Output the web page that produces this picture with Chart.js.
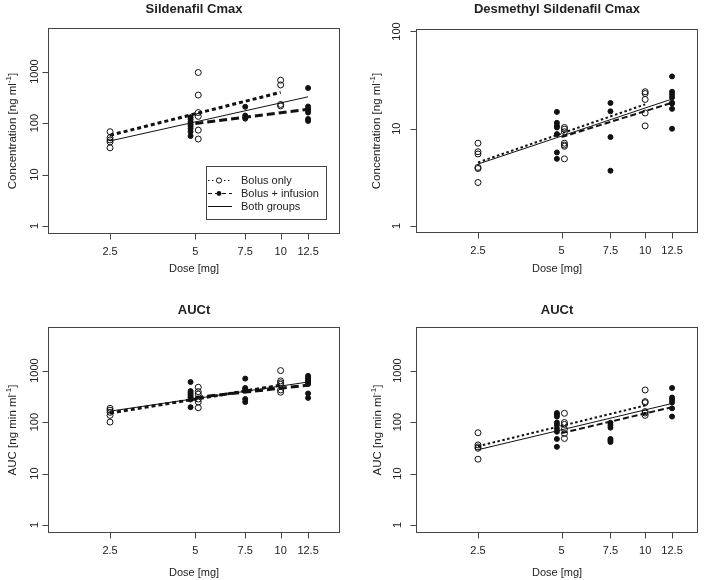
<!DOCTYPE html>
<html><head><meta charset="utf-8">
<script src="https://cdn.jsdelivr.net/npm/chart.js@4.4.1/dist/chart.umd.min.js"></script>
<style>
html,body{margin:0;padding:0;background:#fff;}
#wrap{position:relative;width:709px;height:580px;background:#fff;}
canvas{position:absolute;left:0;top:0;}
</style></head><body>
<div id="wrap">
<canvas id="c1" width="709" height="580"></canvas>
<canvas id="c2" width="709" height="580"></canvas>
<canvas id="c3" width="709" height="580"></canvas>
<canvas id="c4" width="709" height="580"></canvas>
</div>
<script>
// ---------------- data ----------------
const doseTicks = [2.5, 5, 7.5, 10, 12.5];
const yTicksWide = [1, 10, 100, 1000];
const yTicksNarrow = [1, 10, 100];
const legendLabels = ['Bolus only', 'Bolus + infusion', 'Both groups'];

// Panel 1: Sildenafil Cmax
const silBolusDose = [2.5,2.5,2.5,2.5,2.5, 5,5,5,5,5,5, 10,10,10,10];
const silBolusVal  = [68,52,47,43,33, 960,350,160,135,73,49, 680,550,230,215];
const silInfDose   = [5,5,5,5,5,5,5,5, 7.5,7.5,7.5,7.5, 12.5,12.5,12.5,12.5,12.5,12.5,12.5];
const silInfVal    = [130,118,105,95,87,78,68,56, 207,140,130,122, 480,210,190,175,160,120,110];
const silBolusFit  = [58, 395];   // at 2.5 and 10
const silInfFit    = [98, 185];   // at 5 and 12.5
const silBothFit   = [45, 324];   // at 2.5 and 12.5

// Panel 2: Desmethyl Sildenafil Cmax
const desBolusDose = [2.5,2.5,2.5,2.5,2.5,2.5, 5,5,5,5,5,5,5, 10,10,10,10,10];
const desBolusVal  = [7.1,5.8,5.5,4.0,3.9,2.8, 10.3,9.9,9.3,7.1,6.8,6.6,4.9, 24,23,20,14.5,10.7];
const desInfDose   = [5,5,5,5,5,5,5, 7.5,7.5,7.5,7.5, 12.5,12.5,12.5,12.5,12.5,12.5,12.5,12.5];
const desInfVal    = [14.9,11.5,10.7,10.3,8.8,5.7,4.9, 18.4,15.1,8.2,3.7, 34.5,24,22.5,21,18.5,18.2,16,10];
const desBolusFit  = [4.5, 17.8];
const desInfFit    = [8.2, 18.5];
const desBothFit   = [4.33, 20.2];

// Panel 3: AUCt (sildenafil)
const aucSBolusDose = [2.5,2.5,2.5,2.5,2.5, 5,5,5,5,5,5, 10,10,10,10,10,10];
const aucSBolusVal  = [185,170,155,135,100, 475,390,350,280,245,190, 1000,630,580,540,420,380];
const aucSInfDose   = [5,5,5,5,5,5,5,5, 7.5,7.5,7.5,7.5,7.5, 12.5,12.5,12.5,12.5,12.5,12.5,12.5,12.5];
const aucSInfVal    = [600,400,370,345,320,300,275,195, 700,460,430,280,245, 790,730,680,630,580,550,360,295];
const aucSBolusFit  = [150, 520];
const aucSInfFit    = [300, 520];
const aucSBothFit   = [163, 600];

// Panel 4: AUCt (desmethyl)
const aucDBolusDose = [2.5,2.5,2.5,2.5,2.5, 5,5,5,5,5,5, 10,10,10,10,10,10];
const aucDBolusVal  = [62,36,33,31,19, 148,98,90,73,60,48, 420,250,238,160,150,135];
const aucDInfDose   = [5,5,5,5,5,5,5,5,5, 7.5,7.5,7.5,7.5,7.5,7.5, 12.5,12.5,12.5,12.5,12.5,12.5];
const aucDInfVal    = [150,140,128,98,88,75,65,47,33, 97,87,78,47,44,41, 460,300,270,240,185,128];
const aucDBolusFit  = [34, 210];
const aucDInfFit    = [61, 195];
const aucDBothFit   = [29, 230];

// ---------------- drawing ----------------
const FONT = '"Liberation Sans", Arial, Helvetica, sans-serif';
const TXT = '#222';
const BOX = '#444';
const bolusRange = [2.5, 10], infRange = [5, 12.5], bothRange = [2.5, 12.5];
const SHARED = 5, bolusShift = 1.024, infShift = 0.962; // side-by-side offset at shared dose

function pts(dose, val, shift) {
  return dose.map((d, i) => ({x: d === SHARED ? d * shift : d, y: val[i]}));
}
function fitPts(range, fit) {
  return [{x: range[0], y: fit[0]}, {x: range[1], y: fit[1]}];
}
function richWidth(ctx, parts, size) {
  let w = 0;
  parts.forEach(p => { ctx.font = (p.sup ? Math.round(size*0.72) : size) + 'px ' + FONT; w += ctx.measureText(p.t).width; });
  return w;
}
function drawRich(ctx, parts, size) {
  const w = richWidth(ctx, parts, size);
  let x = -w / 2;
  ctx.textAlign = 'left'; ctx.textBaseline = 'middle';
  parts.forEach(p => {
    ctx.font = (p.sup ? Math.round(size*0.72) : size) + 'px ' + FONT;
    ctx.fillText(p.t, x, p.sup ? -4 : 0);
    x += ctx.measureText(p.t).width;
  });
}

function makePanel(id, cfg) {
  const wide = cfg.wide;
  const lw = wide ? 3 : 2;
  const dotDash = wide ? [4, 3] : [2.5, 2.5];
  const dashDash = wide ? [8, 4] : [6, 3];
  const decor = {
    id: 'decor',
    afterDraw(chart) {
      const ctx = chart.ctx, a = chart.chartArea, xs = chart.scales.x, ys = chart.scales.y;
      ctx.save();
      ctx.strokeStyle = BOX; ctx.lineWidth = 1;
      const L = Math.round(a.left) + 0.5, R = Math.round(a.right) - 0.5, T = Math.round(a.top) + 0.5, B = Math.round(a.bottom) - 0.5;
      ctx.strokeRect(L, T, R - L, B - T);
      ctx.beginPath();
      doseTicks.forEach(v => { const px = Math.round(xs.getPixelForValue(v)) + 0.5; ctx.moveTo(px, B); ctx.lineTo(px, B + 6); });
      cfg.yTicks.forEach(v => { const py = Math.round(ys.getPixelForValue(v)) + 0.5; ctx.moveTo(L, py); ctx.lineTo(L - 6, py); });
      ctx.stroke();
      ctx.fillStyle = TXT;
      ctx.font = '11px ' + FONT; ctx.textAlign = 'center'; ctx.textBaseline = 'middle';
      doseTicks.forEach(v => ctx.fillText(String(v), xs.getPixelForValue(v), a.bottom + 18));
      cfg.yTicks.forEach(v => {
        ctx.save(); ctx.translate(a.left - cfg.yLabOff, ys.getPixelForValue(v)); ctx.rotate(-Math.PI/2);
        ctx.fillText(String(v), 0, 0); ctx.restore();
      });
      ctx.fillText('Dose [mg]', (a.left + a.right)/2, a.bottom + cfg.xTitleOff);
      ctx.save(); ctx.translate(a.left - cfg.yTitleOff, (a.top + a.bottom)/2); ctx.rotate(-Math.PI/2);
      drawRich(ctx, cfg.yTitle, 11.5); ctx.restore();
      ctx.font = 'bold 13px ' + FONT; ctx.textAlign = 'center'; ctx.textBaseline = 'middle';
      ctx.fillText(cfg.title, (a.left + a.right)/2, a.top - cfg.titleOff);
      if (cfg.legend) {
        const lx = 206, ly = 166, lwid = 120, lh = 53;
        ctx.strokeStyle = BOX; ctx.lineWidth = 1;
        ctx.strokeRect(lx + 0.5, ly + 0.5, lwid, lh);
        const rows = [180.5, 193.5, 206.5];
        const dashes = [[1.5, 2.5], [4, 3], []];
        rows.forEach((ry, i) => {
          ctx.strokeStyle = '#111'; ctx.lineWidth = 1; ctx.setLineDash(dashes[i]);
          ctx.beginPath(); ctx.moveTo(208, ry); ctx.lineTo(232, ry); ctx.stroke();
          ctx.setLineDash([]);
          if (i === 0) { ctx.fillStyle = '#fff'; ctx.beginPath(); ctx.arc(219, ry, 2.6, 0, Math.PI*2); ctx.fill(); ctx.stroke(); }
          if (i === 1) { ctx.fillStyle = '#111'; ctx.beginPath(); ctx.arc(219, ry, 2.4, 0, Math.PI*2); ctx.fill(); }
          ctx.fillStyle = TXT; ctx.font = '11px ' + FONT; ctx.textAlign = 'left'; ctx.textBaseline = 'middle';
          ctx.fillText(legendLabels[i], 241, ry);
        });
      }
      ctx.restore();
    }
  };
  return new Chart(document.getElementById(id), {
    type: 'scatter',
    data: {
      datasets: [
        {label: 'Both groups fit', data: fitPts(bothRange, cfg.both), showLine: true, borderColor: '#111', borderWidth: 1, pointRadius: 0},
        {label: 'Bolus only fit', data: fitPts(bolusRange, cfg.bolusFit), showLine: true, borderColor: '#111', borderWidth: lw, borderDash: dotDash, pointRadius: 0},
        {label: 'Bolus + infusion fit', data: fitPts(infRange, cfg.infFit), showLine: true, borderColor: '#111', borderWidth: lw, borderDash: dashDash, pointRadius: 0},
        {label: 'Bolus only', data: pts(cfg.bDose, cfg.bVal, bolusShift), showLine: false, pointRadius: 3, pointBorderWidth: 1, pointBorderColor: '#111', pointBackgroundColor: 'rgba(0,0,0,0)'},
        {label: 'Bolus + infusion', data: pts(cfg.iDose, cfg.iVal, infShift), showLine: false, pointRadius: 2.5, pointBorderWidth: 1, pointBorderColor: '#111', pointBackgroundColor: '#111'}
      ]
    },
    options: {
      responsive: false, animation: false, events: [],
      layout: {padding: cfg.pad},
      plugins: {legend: {display: false}, tooltip: {enabled: false}, title: {display: false}},
      scales: {
        x: {type: 'logarithmic', display: false, min: cfg.xMin, max: cfg.xMax},
        y: {type: 'logarithmic', display: false, min: cfg.yMin, max: cfg.yMax}
      }
    },
    plugins: [decor]
  });
}

const concTitle = [{t: 'Concentration [ng ml'}, {t: '-1', sup: true}, {t: ']'}];
const aucTitle = [{t: 'AUC [ng min ml'}, {t: '-1', sup: true}, {t: ']'}];

makePanel('c1', {title: 'Sildenafil Cmax', wide: true, legend: true, yTicks: yTicksWide, yTitle: concTitle,
  pad: {left: 48, right: 709 - 340, top: 28, bottom: 580 - 234}, xMin: 1.51, xMax: 16.2, yMin: 0.711, yMax: 7030,
  titleOff: 19, xTitleOff: 35, yLabOff: 13, yTitleOff: 35,
  bDose: silBolusDose, bVal: silBolusVal, iDose: silInfDose, iVal: silInfVal, bolusFit: silBolusFit, infFit: silInfFit, both: silBothFit});
makePanel('c2', {title: 'Desmethyl Sildenafil Cmax', wide: false, legend: false, yTicks: yTicksNarrow, yTitle: concTitle,
  pad: {left: 416, right: 709 - 698, top: 29, bottom: 580 - 233}, xMin: 1.495, xMax: 15.5, yMin: 0.847, yMax: 106,
  titleOff: 20, xTitleOff: 36, yLabOff: 19, yTitleOff: 39,
  bDose: desBolusDose, bVal: desBolusVal, iDose: desInfDose, iVal: desInfVal, bolusFit: desBolusFit, infFit: desInfFit, both: desBothFit});
makePanel('c3', {title: 'AUCt', wide: true, legend: false, yTicks: yTicksWide, yTitle: aucTitle,
  pad: {left: 48, right: 709 - 340, top: 327, bottom: 580 - 533}, xMin: 1.51, xMax: 16.2, yMin: 0.711, yMax: 7030,
  titleOff: 16.5, xTitleOff: 40, yLabOff: 13, yTitleOff: 35,
  bDose: aucSBolusDose, bVal: aucSBolusVal, iDose: aucSInfDose, iVal: aucSInfVal, bolusFit: aucSBolusFit, infFit: aucSInfFit, both: aucSBothFit});
makePanel('c4', {title: 'AUCt', wide: false, legend: false, yTicks: yTicksWide, yTitle: aucTitle,
  pad: {left: 416, right: 709 - 698, top: 327, bottom: 580 - 533}, xMin: 1.495, xMax: 15.5, yMin: 0.711, yMax: 7030,
  titleOff: 16.5, xTitleOff: 40, yLabOff: 18, yTitleOff: 38,
  bDose: aucDBolusDose, bVal: aucDBolusVal, iDose: aucDInfDose, iVal: aucDInfVal, bolusFit: aucDBolusFit, infFit: aucDInfFit, both: aucDBothFit});
</script>
</body></html>
